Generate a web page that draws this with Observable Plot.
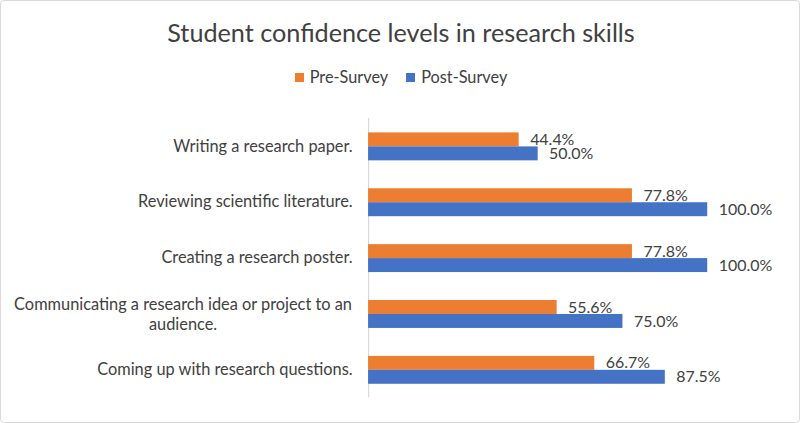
<!DOCTYPE html>
<html>
<head>
<meta charset="utf-8">
<script src="https://cdn.jsdelivr.net/npm/d3@7"></script>
<script src="https://cdn.jsdelivr.net/npm/@observablehq/plot@0.6"></script>
<style>
  html, body { margin: 0; padding: 0; background: #fff; }
  #wrap { position: relative; width: 798px; height: 421px; border: 1px solid #d9d9d9; border-radius: 4px; overflow: hidden; font-family: Lato, sans-serif; color: #404040; }
  #title { position: absolute; top: 16px; left: 0; width: 800px; text-align: center; font-size: 25.2px; color: #404040; }
  #legend { position: absolute; top: 66px; left: 0; width: 800px; text-align: center; font-size: 16.3px; color: #404040; }
  #legend span.item { margin: 0 9px; }
  #legend span.sw { display: inline-block; width: 9px; height: 9px; margin-right: 6px; vertical-align: 1px; }
  #chart { position: absolute; top: 100px; left: 0; }
</style>
</head>
<body>
<div id="wrap">
  <div id="title">Student confidence levels in research skills</div>
  <div id="legend"></div>
  <div id="chart"></div>
</div>
<script>
const categories = [
  "Writing a research paper.",
  "Reviewing scientific literature.",
  "Creating a research poster.",
  "Communicating a research idea or project to an\naudience.",
  "Coming up with research questions."
];
const series = ["Pre-Survey", "Post-Survey"];
const preValues = [44.4, 77.8, 77.8, 55.6, 66.7];
const postValues = [50.0, 100.0, 100.0, 75.0, 87.5];
const colors = ["#ED7D31", "#4472C4"];

const data = [];
categories.forEach((c, i) => {
  data.push({category: c, series: series[0], value: preValues[i]});
  data.push({category: c, series: series[1], value: postValues[i]});
});

const legend = document.getElementById("legend");
series.forEach((s, i) => {
  const it = document.createElement("span");
  it.className = "item";
  it.innerHTML = `<span class="sw" style="background:${colors[i]}"></span>${s}`;
  legend.appendChild(it);
});

const wrapped = categories[3];
const plot = Plot.plot({
  width: 800,
  height: 321,
  marginLeft: 368,
  marginRight: 92,
  marginTop: 16.5,
  marginBottom: 23,
  style: {fontFamily: "Lato, sans-serif", fontSize: "16.4px", color: "#404040"},
  x: {domain: [0, 100], axis: null},
  y: {domain: series, paddingInner: 0, paddingOuter: 0.873, axis: null},
  fy: {domain: categories, padding: 0, label: null, axis: null},
  color: {domain: series, range: colors},
  marks: [
    Plot.ruleX([0], {stroke: "#d9d9d9", strokeWidth: 1.2}),
    Plot.barX(data, {fy: "category", y: "series", x: "value", fill: "series"}),
    Plot.text(data, {fy: "category", y: "series", x: "value", text: d => d.value.toFixed(1) + "%", textAnchor: "start", dx: 11, fill: "#404040", fontSize: 16}),
    Plot.text(categories.filter(c => c !== wrapped), {fy: d => d, frameAnchor: "left", text: d => d, textAnchor: "end", dx: -16, fill: "#404040"}),
    Plot.text([wrapped], {fy: d => d, frameAnchor: "left", text: d => d, textAnchor: "middle", lineAnchor: "middle", dx: -186, fill: "#404040", lineHeight: 1.2})
  ]
});
document.getElementById("chart").appendChild(plot);
</script>
</body>
</html>
